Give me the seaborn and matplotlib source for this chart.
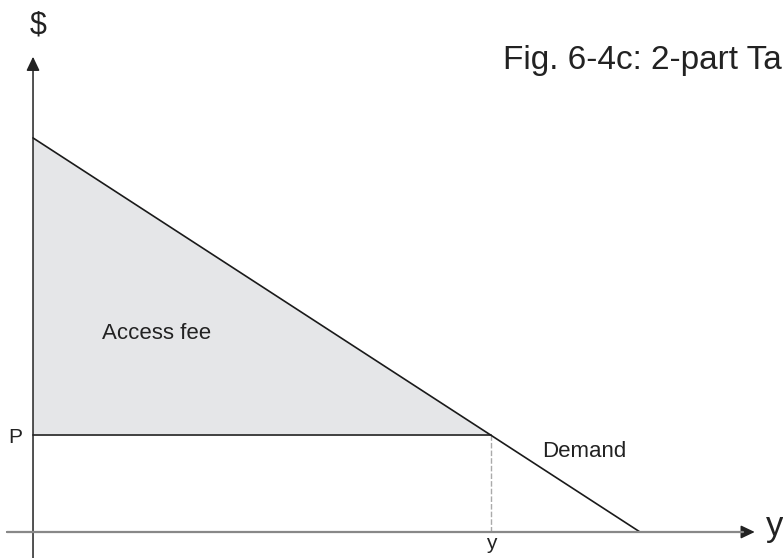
import matplotlib
matplotlib.use("Agg")
import matplotlib.pyplot as plt
import seaborn as sns
import pandas as pd

sns.set_theme(style="white")
plt.rcParams['font.family'] = ['Liberation Sans', 'DejaVu Sans']

# Data (quantity units 0-100, price units 0-100)
demand_q = [0, 100]
demand_p = [100, 0]
price_p = 24.5
quantity_y = 75.5
title = "Fig. 6-4c: 2-part Tariff"

fig = plt.figure(figsize=(7.83, 5.58), dpi=100)
ax = fig.add_axes([0, 0, 1, 1])
ax.set_xlim(-5.44, 123.56)
ax.set_ylim(-6.6, 135.0)
ax.axis("off")

df = pd.DataFrame({"q": demand_q, "p": demand_p})

# shaded access fee triangle
ax.fill_between([0, quantity_y], [demand_p[0], price_p], [price_p, price_p],
                color="#e5e6e8", linewidth=0, zorder=1)

# demand line
sns.lineplot(data=df, x="q", y="p", ax=ax, color="#1a1a1a", linewidth=1.2, zorder=3)

# price line
ax.plot([0, quantity_y], [price_p, price_p], color="#333333", linewidth=1.3, zorder=2)
# dashed vertical at y
ax.plot([quantity_y, quantity_y], [0, price_p], color="#aaaaaa", linewidth=1.0,
        linestyle=(0, (4, 1.5)), zorder=2)

# axes with arrows
ax.annotate("", xy=(0, 120.6), xytext=(0, -6.6),
            arrowprops=dict(arrowstyle="-|>,head_length=0.42,head_width=0.2",
                            mutation_scale=20, color="#222222", lw=1.1,
                            shrinkA=0, shrinkB=0), zorder=4)
ax.annotate("", xy=(118.9, 0), xytext=(-4.3, 0),
            arrowprops=dict(arrowstyle="-|>,head_length=0.42,head_width=0.2",
                            mutation_scale=20, color="#222222", lw=1.1,
                            shrinkA=0, shrinkB=0), zorder=4)
# grey overlay for x-axis shaft
ax.plot([-4.3, 117], [0, 0], color="#888888", linewidth=1.6, zorder=5)

# labels
ax.text(0.8, 128.6, "$", fontsize=22, ha="center", va="center", color="#222222")
ax.text(120.8, 1.3, "y", fontsize=25, ha="left", va="center", color="#222222")
ax.text(-1.8, price_p - 0.6, "P", fontsize=15, ha="right", va="center", color="#222222")
ax.text(quantity_y, -2.8, "y", fontsize=15, ha="center", va="center", color="#222222")
ax.text(11.4, 50.3, "Access fee", fontsize=16, ha="left", va="center", color="#222222")
ax.text(83.9, 20.3, "Demand", fontsize=16, ha="left", va="center", color="#222222")
ax.text(77.4, 119.6, title, fontsize=24, ha="left", va="center", color="#222222")

fig.savefig("out.png", dpi=100)
